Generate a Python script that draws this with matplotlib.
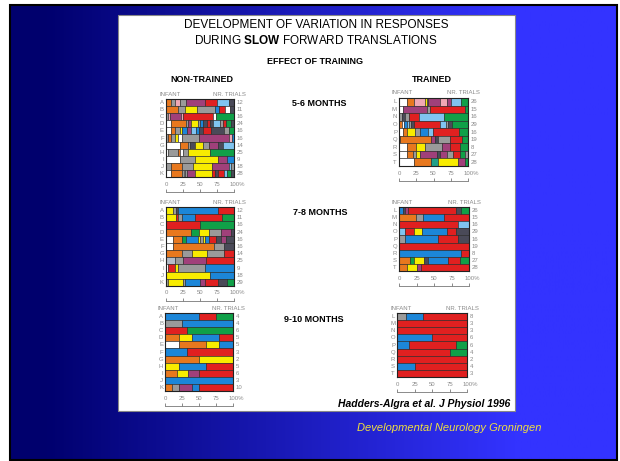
import numpy as np
import matplotlib
matplotlib.use("Agg")
import matplotlib.pyplot as plt
from matplotlib.patches import Rectangle
from matplotlib.transforms import offset_copy

plt.rcParams['font.family'] = ['Liberation Sans', 'DejaVu Sans']
plt.rcParams['mathtext.fontset'] = 'custom'
plt.rcParams['mathtext.rm'] = 'Liberation Sans'
plt.rcParams['mathtext.bf'] = 'Liberation Sans:bold'

# colour codes used in the segment strings
palette = {
    'O': '#e8781e', 'G': '#9a9a9a', 'H': '#b4bcc8', 'K': '#f0a8b4',
    'M': '#a0407a', 'R': '#e02020', 'L': '#80c4f0', 'D': '#4a4a58',
    'Y': '#f8ec00', 'B': '#1c86d8', 'N': '#10a048', 'W': '#ffffff',
    'T': '#20a088',
}

nt_labels = list("ABCDEFGHIJK")
t_labels = list("LMNOPQRST")

# ---- 5-6 months
nt56_trials = [12, 11, 16, 24, 16, 16, 14, 25, 9, 18, 28]
nt56_segs = [
    "O8 G5 K8 G8 M28 R18 L17 D8",
    "O18 G10 Y17 G27 B6 R9 W7 D6",
    "G3 K3 M16 K3 R44 W5 N26",
    "W7 O22 G4 M4 Y10 G3 B5 D5 R5 D4 L10 G5 R4 N7 D5",
    "W7 O6 G7 Y4 B7 M6 L7 B5 D5 R12 D19 G8 N7",
    "G3 O5 G5 Y5 W5 G25 M44 K5 B3",
    "W20 O13 G3 D6 Y12 G9 M13 D8 L16",
    "W3 G15 O3 W4 G7 Y32 N36",
    "W21 G22 Y34 M13 B10",
    "G7 O16 G17 Y27 M26 L3 G4",
    "W7 O16 G3 W2 G3 M11 Y25 R5 D5 R8 L5 N5 D5",
]
t56_trials = [26, 15, 16, 29, 16, 19, 8, 27, 28]
t56_segs = [
    "W11 O11 K15 Y3 G2 M17 K10 M7 L14 N10",
    "W6 M34 G5 R50 N5",
    "G4 D4 G7 R14 L36 N35",
    "O4 W3 B5 L3 G3 D4 R38 L8 G3 D6 N23",
    "W6 O5 Y12 G7 B12 L7 R38 N13",
    "G2 O45 M5 D5 G17 R17 N9",
    "W12 O13 Y13 G24 M12 R14 N12",
    "W11 O10 G4 Y5 M25 D5 M10 G8 R10 N7 G5",
    "W22 O25 T10 Y29 M9 N5",
]

# ---- 7-8 months
nt78_trials = [12, 11, 16, 24, 16, 16, 14, 25, 9, 18, 29]
nt78_segs = [
    "Y11 G3 D4 B59 R23",
    "Y15 R3 G5 B20 R39 N18",
    "R50 N50",
    "O37 N11 Y15 G18 M15 D4",
    "W11 O12 N7 B17 Y3 G5 Y2 B6 R10 D8 M7 D12",
    "W11 O59 G15 D15",
    "O23 G15 Y22 G25 R15",
    "H13 G12 M34 R41",
    "W3 R10 Y5 G39 B43",
    "Y65 B35",
    "G3 Y22 G3 B22 M7 R20 D12 N11",
]
t78_trials = [26, 15, 16, 29, 16, 19, 8, 27, 28]
t78_segs = [
    "B5 D3 M5 R69 D6 N12",
    "O24 G10 B30 R36",
    "R84 L16",
    "L8 R14 Y11 B36 R13 D18",
    "G9 B47 R28 D16",
    "R100",
    "B89 R11",
    "O15 N6 Y14 D7 B28 R17 N13",
    "O11 Y14 M7 R68",
]

# ---- 9-10 months
nt910_trials = [4, 4, 6, 5, 5, 3, 2, 5, 6, 3, 10]
nt910_segs = [
    "B50 R25 N25",
    "G25 B75",
    "R33 N67",
    "O20 Y20 B40 R20",
    "W20 O40 Y20 B20",
    "B33 R67",
    "O50 Y50",
    "Y20 B40 R40",
    "O17 Y17 M16 R50",
    "B100",
    "O10 G10 M20 B10 R50",
]
t910_trials = [8, 3, 3, 6, 6, 4, 2, 4, 3]
t910_segs = [
    "G12.5 B25 R62.5",
    "R100",
    "R100",
    "B50 R50",
    "B17 R67 N16",
    "R75 N25",
    "R100",
    "B25 R75",
    "R100",
]

W, H = 620, 461
fig = plt.figure(figsize=(W / 100, H / 100), dpi=100)

# slide background
bg = fig.add_axes([0, 0, 1, 1])
bg.set_xlim(0, W)
bg.set_ylim(H, 0)
bg.axis('off')
xs = np.linspace(0, 1, 400)
c0 = np.array([0.0, 0.0, 0.43])
c1 = np.array([0.2, 0.2, 1.0])
t = np.clip((np.linspace(10, 617, 400) - 45) / (515 - 45), 0, 1)
grad = c0[None, :] * (1 - t[:, None]) + c1[None, :] * t[:, None]
bg.imshow(grad[None, :, :], extent=[10, 617, 460, 5], aspect='auto', zorder=0)
bg.add_patch(Rectangle((10, 5), 607, 455, fill=False, ec='black', lw=1.5, zorder=1))
bg.add_patch(Rectangle((118, 15), 397, 396, fc='white', ec='#888888', lw=0.8, zorder=2))

txt = dict(ha='center', va='center', zorder=3)
bg.text(316, 25, "DEVELOPMENT OF VARIATION IN RESPONSES", fontsize=8.5, **txt)
bg.text(316, 40, r"DURING $\bf{SLOW}$ FORWARD TRANSLATIONS", fontsize=8.5, **txt)
bg.text(315, 62, "EFFECT OF TRAINING", fontsize=6.5, fontweight='bold', **txt)
bg.text(202, 80, "NON-TRAINED", fontsize=6.5, fontweight='bold', **txt)
bg.text(432, 80, "TRAINED", fontsize=6.5, fontweight='bold', **txt)
bg.text(319, 103, "5-6 MONTHS", fontsize=6.5, fontweight='bold', **txt)
bg.text(320, 212, "7-8 MONTHS", fontsize=6.5, fontweight='bold', **txt)
bg.text(314, 319, "9-10 MONTHS", fontsize=6.5, fontweight='bold', **txt)
bg.text(510, 404, "Hadders-Algra et al. J Physiol 1996", fontsize=7.5,
        fontweight='bold', fontstyle='italic', ha='right', va='center', zorder=3)
bg.text(449, 428, "Developmental Neurology Groningen", fontsize=8,
        fontstyle='italic', color='#f0e040', ha='center', va='center', zorder=3)


def panel(box, labels, trials, segs):
    x0, y0, x1, y1 = box
    ax = fig.add_axes([x0 / W, 1 - y1 / H, (x1 - x0) / W, (y1 - y0) / H])
    grey = '#8a8a8a'
    for i, row in enumerate(segs):
        left = 0
        for s in row.split():
            w = float(s[1:])
            ax.barh(i, w, left=left, height=1.0, color=palette[s[0]],
                    edgecolor='#222222', linewidth=0.4)
            left += w
    ax.set_xlim(0, 100)
    ax.set_ylim(len(segs) - 0.5, -0.5)
    ax.set_xticks([])
    ax.set_yticks([])
    for sp in ax.spines.values():
        sp.set_linewidth(0.8)
        sp.set_color('#222222')

    ytr = ax.get_yaxis_transform()
    for i, (lab, n) in enumerate(zip(labels, trials)):
        ax.text(0, i, lab, transform=offset_copy(ytr, fig, x=-2, units='dots'),
                ha='right', va='center', fontsize=4.3, color=grey)
        ax.text(1, i, str(n), transform=offset_copy(ytr, fig, x=3, units='dots'),
                ha='left', va='center', fontsize=4.3, color=grey)
    xtr = ax.get_xaxis_transform()
    ax.text(0, 1, "INFANT", transform=offset_copy(xtr, fig, x=-7, y=5, units='dots'),
            ha='left', va='center', fontsize=4.3, color=grey)
    ax.text(100, 1, "NR. TRIALS", transform=offset_copy(xtr, fig, x=12, y=5, units='dots'),
            ha='right', va='center', fontsize=4.3, color=grey)
    ticks = [0, 25, 50, 75, 100]
    for v in ticks:
        ax.text(v, 0, "100%" if v == 100 else str(v),
                transform=offset_copy(xtr, fig, x=3 if v == 100 else 0, y=-7, units='dots'),
                ha='center', va='center', fontsize=4.3, color=grey)
    rtr = offset_copy(xtr, fig, y=-15, units='dots')
    ax.plot([0, 100], [0, 0], transform=rtr, color='#777777', lw=0.6, clip_on=False)
    ax.plot(ticks, [0] * 5, transform=rtr, color='#777777', marker=2, markersize=2,
            mew=0.6, linestyle='none', clip_on=False)
    return ax


panel((166, 99, 234, 177), nt_labels, nt56_trials, nt56_segs)
panel((399, 98, 468, 166), t_labels, t56_trials, t56_segs)
panel((166, 207, 234, 286), nt_labels, nt78_trials, nt78_segs)
panel((399, 207, 469, 271), t_labels, t78_trials, t78_segs)
panel((165, 313, 233, 391), nt_labels, nt910_trials, nt910_segs)
panel((397, 313, 467, 377), t_labels, t910_trials, t910_segs)

fig.savefig("out.png", dpi=100)
